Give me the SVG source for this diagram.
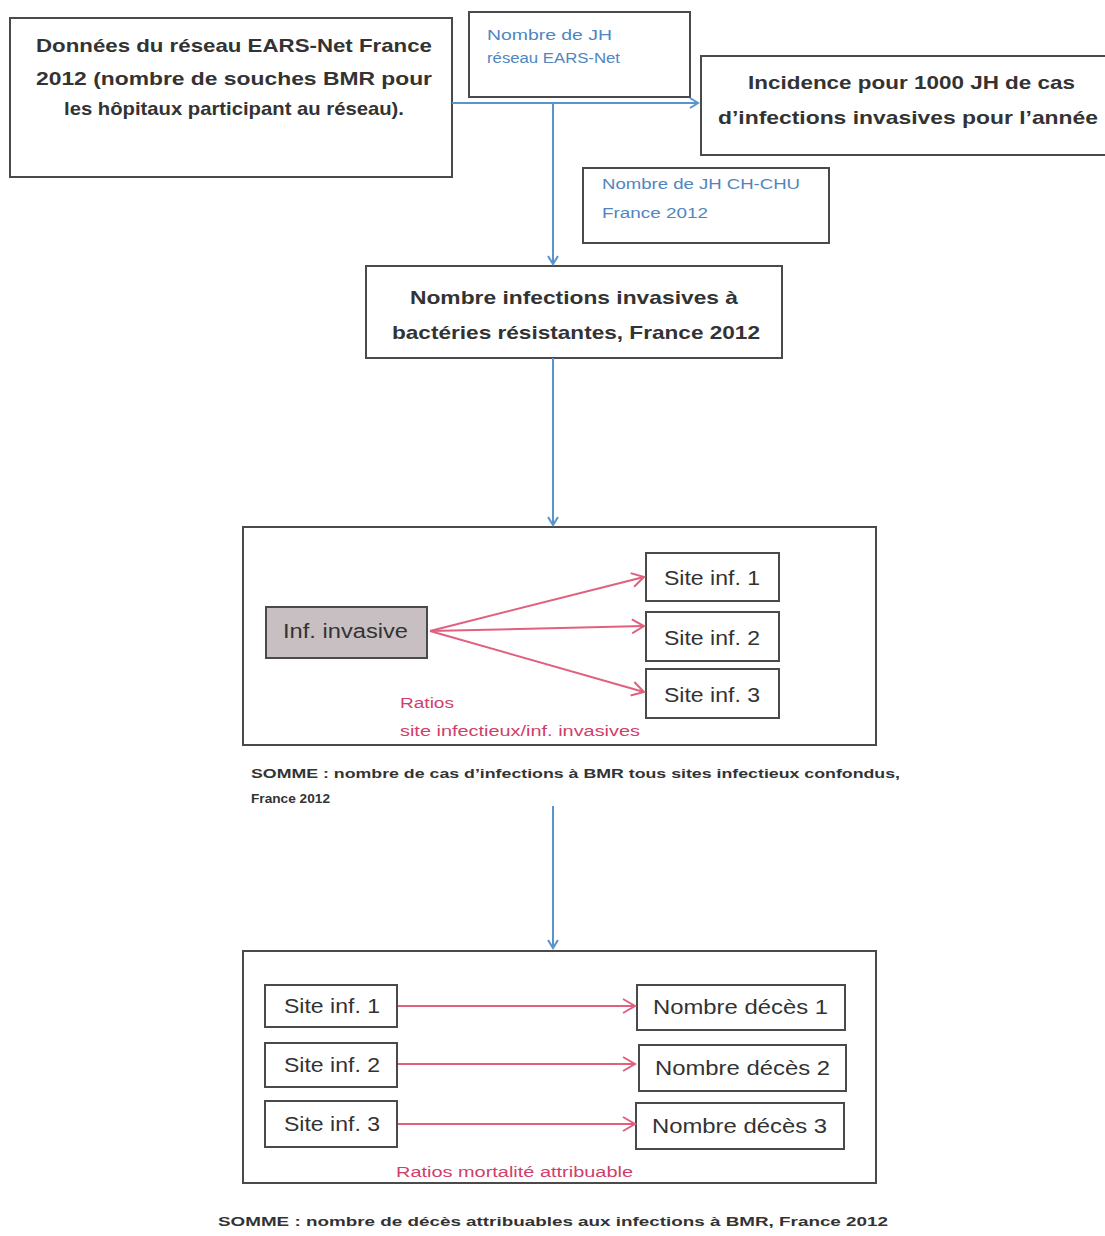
<svg xmlns="http://www.w3.org/2000/svg" width="1105" height="1236" viewBox="0 0 1105 1236">
<style>
.box{fill:#fff;stroke:#4a4a4a;stroke-width:2}
.t{font-family:"Liberation Sans",Arial,sans-serif;fill:#333}
.b{font-weight:bold;font-size:19px}
.blue{font-family:"Liberation Sans",Arial,sans-serif;fill:#4f86c0;font-size:14px}
.pink{font-family:"Liberation Sans",Arial,sans-serif;fill:#d0406a;font-size:14px}
.site{font-size:20px}
.som{font-weight:bold;font-size:13px}
.bl{stroke:#5b93cc;stroke-width:2;fill:none}
.pk{stroke:#e0607f;stroke-width:2;fill:none}
</style>
<defs>
<marker id="ab" markerWidth="12" markerHeight="12" refX="10" refY="6" orient="auto" markerUnits="userSpaceOnUse"><path d="M2,1 L10,6 L2,11" fill="none" stroke="#5b93cc" stroke-width="2"/></marker>
<marker id="ap" markerWidth="16" markerHeight="16" refX="14" refY="8" orient="auto" markerUnits="userSpaceOnUse"><path d="M2,1 L14,8 L2,15" fill="none" stroke="#e0607f" stroke-width="2"/></marker>
</defs>
<rect width="1105" height="1236" fill="#fff"/>

<g id="n-ears">
<rect class="box" x="10" y="18" width="442" height="159"/>
<text class="t b" x="36" y="52" textLength="396" lengthAdjust="spacingAndGlyphs">Données du réseau EARS-Net France</text>
<text class="t b" x="36" y="85" textLength="396" lengthAdjust="spacingAndGlyphs">2012 (nombre de souches BMR pour</text>
<text class="t b" x="64" y="115" textLength="340" lengthAdjust="spacingAndGlyphs">les hôpitaux participant au réseau).</text>
</g>

<g id="n-jh-ears">
<rect class="box" x="469" y="12" width="221" height="85"/>
<text class="blue" x="487" y="40" textLength="125" lengthAdjust="spacingAndGlyphs">Nombre de JH</text>
<text class="blue" x="487" y="63" textLength="133" lengthAdjust="spacingAndGlyphs">réseau EARS-Net</text>
</g>

<g id="n-incidence">
<rect class="box" x="701" y="56" width="412" height="99"/>
<text class="t b" x="748" y="89" textLength="327" lengthAdjust="spacingAndGlyphs">Incidence pour 1000 JH de cas</text>
<text class="t b" x="718" y="124" textLength="380" lengthAdjust="spacingAndGlyphs">d’infections invasives pour l’année</text>
</g>

<g id="n-jh-chu">
<rect class="box" x="583" y="168" width="246" height="75"/>
<text class="blue" x="602" y="189" textLength="198" lengthAdjust="spacingAndGlyphs">Nombre de JH CH-CHU</text>
<text class="blue" x="602" y="218" textLength="106" lengthAdjust="spacingAndGlyphs">France 2012</text>
</g>

<g id="n-nombre">
<rect class="box" x="366" y="266" width="416" height="92"/>
<text class="t b" x="410" y="304" textLength="328" lengthAdjust="spacingAndGlyphs">Nombre infections invasives à</text>
<text class="t b" x="392" y="339" textLength="368" lengthAdjust="spacingAndGlyphs">bactéries résistantes, France 2012</text>
</g>

<g id="n-sites">
<rect class="box" x="243" y="527" width="633" height="218"/>
<rect x="266" y="607" width="161" height="51" fill="#c8bfc2" stroke="#4a4a4a" stroke-width="2"/>
<text class="t site" x="283" y="638" textLength="125" lengthAdjust="spacingAndGlyphs">Inf. invasive</text>
<rect class="box" x="646" y="553" width="133" height="48"/>
<text class="t site" x="664" y="585" textLength="96" lengthAdjust="spacingAndGlyphs">Site inf. 1</text>
<rect class="box" x="646" y="612" width="133" height="49"/>
<text class="t site" x="664" y="645" textLength="96" lengthAdjust="spacingAndGlyphs">Site inf. 2</text>
<rect class="box" x="646" y="669" width="133" height="49"/>
<text class="t site" x="664" y="702" textLength="96" lengthAdjust="spacingAndGlyphs">Site inf. 3</text>
<text class="pink" x="400" y="708" textLength="54" lengthAdjust="spacingAndGlyphs">Ratios</text>
<text class="pink" x="400" y="736" textLength="240" lengthAdjust="spacingAndGlyphs">site infectieux/inf. invasives</text>
</g>

<g id="n-somme1">
<text class="t som" x="251" y="778" textLength="649" lengthAdjust="spacingAndGlyphs">SOMME : nombre de cas d’infections à BMR tous sites infectieux confondus,</text>
<text class="t som" x="251" y="803" textLength="79" lengthAdjust="spacingAndGlyphs">France 2012</text>
</g>

<g id="n-deces">
<rect class="box" x="243" y="951" width="633" height="232"/>
<rect class="box" x="265" y="985" width="132" height="42"/>
<text class="t site" x="284" y="1013" textLength="96" lengthAdjust="spacingAndGlyphs">Site inf. 1</text>
<rect class="box" x="265" y="1043" width="132" height="44"/>
<text class="t site" x="284" y="1072" textLength="96" lengthAdjust="spacingAndGlyphs">Site inf. 2</text>
<rect class="box" x="265" y="1101" width="132" height="46"/>
<text class="t site" x="284" y="1131" textLength="96" lengthAdjust="spacingAndGlyphs">Site inf. 3</text>
<rect class="box" x="637" y="985" width="208" height="45"/>
<text class="t site" x="653" y="1014" textLength="175" lengthAdjust="spacingAndGlyphs">Nombre décès 1</text>
<rect class="box" x="639" y="1045" width="207" height="46"/>
<text class="t site" x="655" y="1075" textLength="175" lengthAdjust="spacingAndGlyphs">Nombre décès 2</text>
<rect class="box" x="636" y="1103" width="208" height="46"/>
<text class="t site" x="652" y="1133" textLength="175" lengthAdjust="spacingAndGlyphs">Nombre décès 3</text>
<text class="pink" x="396" y="1177" textLength="237" lengthAdjust="spacingAndGlyphs">Ratios mortalité attribuable</text>
</g>

<g id="n-somme2">
<text class="t som" x="218" y="1226" textLength="670" lengthAdjust="spacingAndGlyphs">SOMME : nombre de décès attribuables aux infections à BMR, France 2012</text>
</g>

<g id="connectors">
<path class="bl" d="M452,103 H698" marker-end="url(#ab)"/>
<path class="bl" d="M553,103 V264" marker-end="url(#ab)"/>
<path class="bl" d="M553,358 V525" marker-end="url(#ab)"/>
<path class="bl" d="M553,806 V948" marker-end="url(#ab)"/>
<path class="pk" d="M430,631 L644,577" marker-end="url(#ap)"/>
<path class="pk" d="M430,631 L644,626" marker-end="url(#ap)"/>
<path class="pk" d="M430,631 L644,692" marker-end="url(#ap)"/>
<path class="pk" d="M398,1006 H635" marker-end="url(#ap)"/>
<path class="pk" d="M398,1064 H635" marker-end="url(#ap)"/>
<path class="pk" d="M398,1124 H635" marker-end="url(#ap)"/>
</g>
</svg>
